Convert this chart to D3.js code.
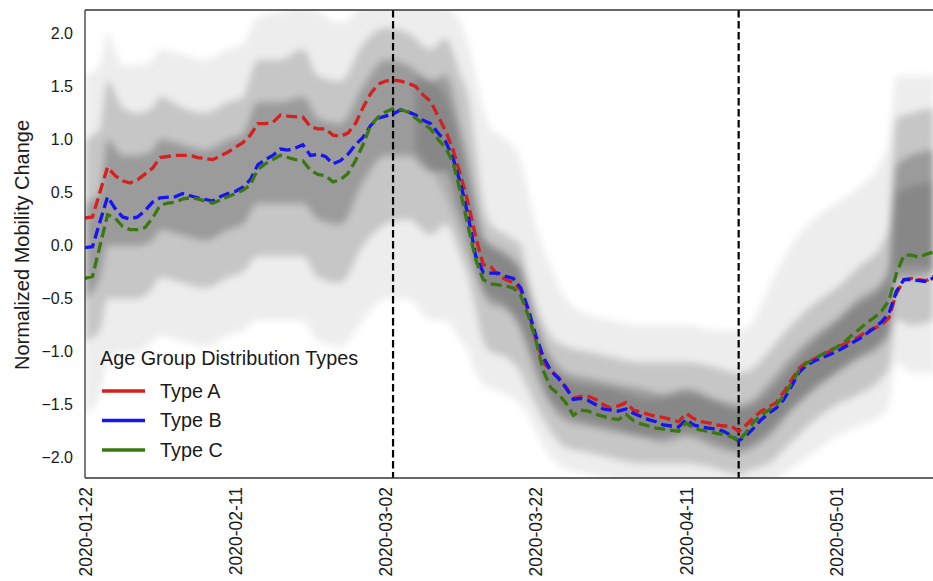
<!DOCTYPE html>
<html>
<head>
<meta charset="utf-8">
<script src="https://cdn.jsdelivr.net/npm/d3@7"></script>
<style>
  body { margin: 0; background: #fff; }
  text { font-family: "Liberation Sans", Arial, sans-serif; fill: #1a1a1a; }
</style>
</head>
<body>
<svg width="933" height="581"></svg>
<script>
// ---- data (days counted from startDate) ----
const startDate = '2020-01-22';
const lastDay = 113;
const xTickLabels = ['2020-01-22', '2020-02-11', '2020-03-02', '2020-03-22', '2020-04-11', '2020-05-01'];
const yTicks = [-2, -1.5, -1, -0.5, 0, 0.5, 1, 1.5, 2];
const eventDates = ['2020-03-03', '2020-04-18'];
const seriesNames = ['Type A', 'Type B', 'Type C'];

const typeA = [[0,0.26],[1,0.27],[3,0.74],[4,0.66],[5,0.61],[6,0.59],[7,0.62],[9,0.73],[10,0.83],[12,0.85],[14,0.85],[15,0.83],[17,0.81],[19,0.88],[21,0.97],[22,1.04],[23,1.15],[24,1.15],[25,1.16],[26,1.23],[27,1.22],[29,1.21],[30,1.12],[31,1.10],[32,1.10],[33,1.04],[34,1.03],[35,1.06],[36,1.15],[37,1.30],[38,1.43],[39,1.52],[40,1.55],[41,1.56],[42,1.55],[43,1.53],[44,1.50],[45,1.42],[46,1.36],[47,1.22],[48,1.08],[49,0.90],[50,0.66],[51,0.40],[52,0.08],[53,-0.18],[54,-0.20],[55,-0.28],[56,-0.32],[57,-0.35],[58,-0.42],[59,-0.62],[60,-0.88],[61,-1.10],[62,-1.18],[63,-1.24],[64,-1.33],[65,-1.44],[66,-1.42],[67,-1.42],[68,-1.45],[69,-1.50],[70,-1.53],[71,-1.51],[72,-1.48],[73,-1.55],[74,-1.57],[75,-1.59],[76,-1.61],[77,-1.62],[78,-1.64],[79,-1.66],[80,-1.58],[81,-1.63],[82,-1.66],[83,-1.67],[84,-1.69],[85,-1.70],[86,-1.70],[87,-1.75],[88,-1.69],[89,-1.62],[90,-1.56],[91,-1.52],[92,-1.48],[93,-1.38],[94,-1.27],[95,-1.16],[96,-1.10],[97,-1.07],[98,-1.03],[99,-1.00],[100,-0.96],[101,-0.93],[102,-0.89],[103,-0.86],[104,-0.81],[105,-0.78],[106,-0.75],[107,-0.68],[108,-0.45],[109,-0.32],[110,-0.31],[111,-0.32],[112,-0.33],[113,-0.29]];

const typeB = [[0,-0.02],[1,-0.01],[3,0.46],[4,0.35],[5,0.27],[6,0.25],[7,0.27],[8,0.33],[9,0.41],[10,0.45],[12,0.46],[13,0.49],[14,0.47],[15,0.45],[17,0.42],[18,0.46],[19,0.49],[20,0.51],[21,0.55],[22,0.62],[23,0.76],[24,0.81],[25,0.85],[26,0.91],[27,0.90],[28,0.92],[29,0.95],[30,0.85],[31,0.86],[32,0.84],[33,0.77],[34,0.80],[35,0.86],[36,0.95],[37,1.02],[38,1.13],[39,1.20],[40,1.22],[41,1.24],[42,1.28],[43,1.26],[44,1.23],[45,1.18],[46,1.15],[47,1.06],[48,0.98],[49,0.82],[50,0.58],[51,0.28],[52,-0.10],[53,-0.25],[54,-0.26],[55,-0.26],[56,-0.29],[57,-0.31],[58,-0.40],[59,-0.60],[60,-0.85],[61,-1.05],[62,-1.18],[63,-1.25],[64,-1.34],[65,-1.45],[66,-1.44],[67,-1.46],[68,-1.50],[69,-1.54],[70,-1.55],[71,-1.56],[72,-1.54],[73,-1.58],[74,-1.61],[75,-1.64],[76,-1.66],[77,-1.69],[78,-1.70],[79,-1.71],[80,-1.64],[81,-1.69],[82,-1.71],[83,-1.72],[84,-1.73],[85,-1.75],[86,-1.79],[87,-1.84],[88,-1.79],[89,-1.72],[90,-1.64],[91,-1.58],[92,-1.53],[93,-1.45],[94,-1.33],[95,-1.20],[96,-1.13],[97,-1.09],[98,-1.06],[99,-1.03],[100,-1.00],[101,-0.96],[102,-0.92],[103,-0.88],[104,-0.83],[105,-0.78],[106,-0.72],[107,-0.64],[108,-0.43],[109,-0.32],[110,-0.32],[111,-0.33],[112,-0.34],[113,-0.30]];

const typeC = [[0,-0.31],[1,-0.29],[3,0.29],[4,0.26],[5,0.18],[6,0.15],[7,0.15],[8,0.17],[9,0.26],[10,0.38],[11,0.40],[12,0.41],[13,0.44],[14,0.45],[15,0.44],[16,0.42],[17,0.40],[18,0.43],[19,0.46],[20,0.49],[21,0.52],[22,0.57],[23,0.72],[24,0.77],[25,0.81],[26,0.85],[27,0.83],[28,0.81],[29,0.80],[30,0.71],[31,0.67],[32,0.66],[33,0.60],[34,0.62],[35,0.68],[36,0.80],[37,0.95],[38,1.13],[39,1.21],[40,1.26],[41,1.29],[42,1.28],[43,1.26],[44,1.20],[45,1.15],[46,1.10],[47,1.00],[48,0.92],[49,0.78],[50,0.50],[51,0.18],[52,-0.13],[53,-0.32],[54,-0.36],[55,-0.37],[56,-0.38],[57,-0.40],[58,-0.47],[59,-0.66],[60,-0.89],[61,-1.18],[62,-1.34],[63,-1.40],[64,-1.48],[65,-1.60],[66,-1.55],[67,-1.56],[68,-1.59],[69,-1.61],[70,-1.63],[71,-1.64],[72,-1.59],[73,-1.65],[74,-1.68],[75,-1.70],[76,-1.72],[77,-1.73],[78,-1.74],[79,-1.75],[80,-1.67],[81,-1.72],[82,-1.74],[83,-1.75],[84,-1.77],[85,-1.78],[86,-1.80],[87,-1.84],[88,-1.76],[89,-1.66],[90,-1.60],[91,-1.55],[92,-1.50],[93,-1.42],[94,-1.30],[95,-1.18],[96,-1.11],[97,-1.07],[98,-1.03],[99,-0.99],[100,-0.96],[101,-0.91],[102,-0.85],[103,-0.79],[104,-0.73],[105,-0.68],[106,-0.62],[107,-0.52],[108,-0.26],[109,-0.09],[110,-0.09],[111,-0.11],[112,-0.08],[113,-0.06]];

// spread of the individual county curves (grey background), read as envelopes
const bandDays  = [0, 2, 3, 5, 7, 9, 10, 13, 16, 19, 21, 23, 26, 29, 31, 34, 37, 40, 43, 46, 48, 50, 51, 52, 53, 54, 56, 58, 59, 60, 62, 64, 67, 70, 74, 77, 80, 84, 87, 89, 91, 94, 97, 100, 103, 106, 107, 108, 110, 113];
const outerHigh = [1.6, 1.7, 2.0, 1.7, 1.7, 1.75, 1.85, 1.8, 1.75, 1.85, 1.9, 2.15, 2.2, 2.25, 2.2, 2.1, 2.25, 2.3, 2.3, 2.3, 2.25, 2.1, 1.9, 1.6, 1.3, 1.1, 1.0, 0.8, 0.5, 0.2, -0.2, -0.5, -0.65, -0.7, -0.75, -0.75, -0.75, -0.8, -0.8, -0.7, -0.4, 0.0, 0.25, 0.4, 0.55, 0.8, 1.0, 1.6, 1.6, 1.6];
const midHigh   = [1.0, 1.1, 1.55, 1.3, 1.25, 1.3, 1.4, 1.3, 1.25, 1.35, 1.4, 1.75, 1.75, 1.85, 1.6, 1.55, 1.9, 2.05, 2.0, 1.85, 1.95, 1.6, 1.4, 0.9, 0.4, 0.2, 0.1, 0.0, -0.3, -0.55, -0.85, -0.95, -1.0, -1.05, -1.1, -1.1, -1.1, -1.15, -1.2, -1.15, -1.0, -0.75, -0.55, -0.4, -0.2, 0.0, 0.2, 1.2, 1.25, 1.3];
const coreHigh  = [0.4, 0.5, 1.0, 0.85, 0.85, 0.9, 1.0, 0.95, 0.9, 1.0, 1.05, 1.35, 1.35, 1.4, 1.2, 1.15, 1.5, 1.75, 1.7, 1.55, 1.6, 1.1, 0.8, 0.4, 0.1, 0.0, -0.1, -0.25, -0.5, -0.75, -1.05, -1.2, -1.25, -1.3, -1.35, -1.4, -1.35, -1.45, -1.5, -1.45, -1.3, -1.05, -0.85, -0.7, -0.5, -0.35, -0.2, 0.75, 0.85, 0.9];
const coreLow   = [-0.5, -0.3, 0.0, 0.0, 0.0, 0.05, 0.15, 0.1, 0.05, 0.15, 0.2, 0.4, 0.4, 0.4, 0.25, 0.2, 0.6, 0.85, 0.85, 0.7, 0.7, 0.3, 0.1, -0.2, -0.45, -0.55, -0.6, -0.8, -1.0, -1.2, -1.5, -1.65, -1.7, -1.75, -1.8, -1.85, -1.8, -1.9, -1.95, -1.9, -1.8, -1.55, -1.35, -1.2, -1.05, -0.9, -0.8, -0.3, -0.3, -0.25];
const midLow    = [-0.9, -0.8, -0.5, -0.5, -0.5, -0.4, -0.3, -0.35, -0.4, -0.3, -0.25, -0.1, -0.1, -0.1, -0.3, -0.35, 0.0, 0.2, 0.25, 0.1, 0.2, -0.1, -0.3, -0.6, -0.9, -1.0, -1.05, -1.2, -1.35, -1.5, -1.75, -1.9, -1.95, -2.0, -2.05, -2.05, -2.05, -2.1, -2.15, -2.1, -2.05, -1.85, -1.65, -1.5, -1.4, -1.25, -1.15, -0.7, -0.75, -0.7];
const outerLow  = [-1.6, -1.4, -1.1, -1.0, -1.0, -0.9, -0.85, -0.9, -0.95, -0.85, -0.8, -0.7, -0.7, -0.7, -0.9, -0.95, -0.7, -0.5, -0.5, -0.7, -0.7, -0.9, -1.0, -1.2, -1.3, -1.35, -1.4, -1.5, -1.6, -1.75, -2.0, -2.1, -2.15, -2.2, -2.25, -2.25, -2.25, -2.25, -2.3, -2.3, -2.25, -2.1, -1.95, -1.8, -1.7, -1.6, -1.5, -1.1, -1.2, -1.2];

// densest strand of curves after the early-March peak
const denseDays = [44, 47, 49, 51, 53, 56, 58, 60, 62, 65, 70, 75, 80, 85, 87, 90, 94, 98, 102, 106, 107, 108, 113];
const denseHigh = [1.6, 1.5, 1.2, 0.6, 0.05, -0.05, -0.2, -0.7, -1.15, -1.3, -1.35, -1.45, -1.4, -1.5, -1.55, -1.45, -1.15, -0.85, -0.6, -0.4, -0.3, 0.5, 0.6];
const denseLow  = [0.9, 0.6, 0.3, -0.1, -0.4, -0.55, -0.75, -1.1, -1.45, -1.6, -1.7, -1.8, -1.75, -1.85, -1.9, -1.8, -1.55, -1.3, -1.1, -0.95, -0.85, -0.2, -0.2];

// ---- drawing ----
const svg = d3.select('svg');
const plotLeft = 85, plotTop = 10, plotBottom = 478, plotRight = 934;

const parse = d3.timeParse('%Y-%m-%d');
const start = parse(startDate);
const dayToDate = d => d3.timeDay.offset(start, d);

const x = d3.scaleTime()
    .domain([start, dayToDate(lastDay)])
    .range([plotLeft, plotRight]);
const y = d3.scaleLinear()
    .domain([-2.19, 2.22])
    .range([plotBottom, plotTop]);

const defs = svg.append('defs');
defs.append('clipPath')
    .attr('id', 'plotClip')
    .append('rect')
    .attr('x', plotLeft).attr('y', plotTop)
    .attr('width', plotRight - plotLeft).attr('height', plotBottom - plotTop);
defs.append('filter')
    .attr('id', 'soft')
    .attr('x', '-5%').attr('y', '-5%')
    .attr('width', '110%').attr('height', '110%')
    .append('feGaussianBlur')
    .attr('stdDeviation', 3.5);

const plot = svg.append('g').attr('clip-path', 'url(#plotClip)');

// grey spread of individual curves
const bands = [
  {days: bandDays, hi: outerHigh, lo: outerLow, opacity: 0.07},
  {days: bandDays, hi: midHigh, lo: midLow, opacity: 0.17},
  {days: bandDays, hi: coreHigh, lo: coreLow, opacity: 0.22},
  {days: denseDays, hi: denseHigh, lo: denseLow, opacity: 0.13}
];
const bandG = plot.append('g').attr('filter', 'url(#soft)');
bands.forEach(b => {
  const rows = b.days.map((d, i) => ({d, hi: b.hi[i], lo: b.lo[i]}));
  const area = d3.area()
      .x(r => x(dayToDate(r.d)))
      .y0(r => y(r.lo))
      .y1(r => y(r.hi))
      .curve(d3.curveMonotoneX);
  bandG.append('path')
      .attr('d', area(rows))
      .attr('fill', '#000')
      .attr('fill-opacity', b.opacity);
});

// event markers
eventDates.forEach(s => {
  plot.append('line')
      .attr('x1', x(parse(s))).attr('x2', x(parse(s)))
      .attr('y1', plotTop).attr('y2', plotBottom)
      .attr('stroke', '#000')
      .attr('stroke-width', 2.2)
      .attr('stroke-dasharray', '7.5,3.5');
});

// group means
const colors = ['#d61f1f', '#1515f2', '#38780f'];
const allSeries = [typeA, typeB, typeC];
const line = d3.line()
    .x(p => x(dayToDate(p[0])))
    .y(p => y(p[1]));
allSeries.forEach((s, i) => {
  plot.append('path')
      .attr('d', line(s))
      .attr('fill', 'none')
      .attr('stroke', colors[i])
      .attr('stroke-width', 3.3)
      .attr('stroke-dasharray', '11,5');
});

// frame (top, left, bottom)
const frame = svg.append('g')
    .attr('stroke', '#333')
    .attr('stroke-width', 1.3);
frame.append('line').attr('x1', plotLeft).attr('x2', plotRight).attr('y1', plotTop).attr('y2', plotTop);
frame.append('line').attr('x1', plotLeft).attr('x2', plotLeft).attr('y1', plotTop).attr('y2', plotBottom);
frame.append('line').attr('x1', plotLeft).attr('x2', plotRight).attr('y1', plotBottom).attr('y2', plotBottom);

// axes
const yAxis = d3.axisLeft(y)
    .tickValues(yTicks)
    .tickSize(0)
    .tickPadding(12)
    .tickFormat(d3.format('.1f'));
const yAxisG = svg.append('g')
    .attr('transform', `translate(${plotLeft},0)`)
    .call(yAxis);
yAxisG.select('.domain').remove();
yAxisG.selectAll('text')
    .style('font-size', '16px')
    .style('font-family', '"Liberation Sans", Arial, sans-serif');

const xAxis = d3.axisBottom(x)
    .tickValues(xTickLabels.map(parse))
    .tickSize(0)
    .tickFormat(d3.timeFormat('%Y-%m-%d'));
const xAxisG = svg.append('g')
    .attr('transform', `translate(0,${plotBottom})`)
    .call(xAxis);
xAxisG.select('.domain').remove();
xAxisG.selectAll('text')
    .attr('transform', 'rotate(-90)')
    .attr('text-anchor', 'end')
    .attr('x', -9)
    .attr('y', 0)
    .attr('dy', '0.35em')
    .style('font-size', '17.5px')
    .style('font-family', '"Liberation Sans", Arial, sans-serif');

svg.append('text')
    .attr('transform', 'translate(22,245) rotate(-90)')
    .attr('text-anchor', 'middle')
    .attr('dy', '0.35em')
    .style('font-size', '20px')
    .text('Normalized Mobility Change');

// legend
const legend = svg.append('g');
legend.append('text')
    .attr('x', 100).attr('y', 358)
    .attr('dy', '0.35em')
    .style('font-size', '19.8px')
    .text('Age Group Distribution Types');
seriesNames.forEach((name, i) => {
  const ly = 391 + i * 29.5;
  legend.append('line')
      .attr('x1', 102).attr('x2', 145)
      .attr('y1', ly).attr('y2', ly)
      .attr('stroke', colors[i])
      .attr('stroke-width', 3.3);
  legend.append('text')
      .attr('x', 160).attr('y', ly)
      .attr('dy', '0.35em')
      .style('font-size', '19.8px')
      .text(name);
});
</script>
</body>
</html>
